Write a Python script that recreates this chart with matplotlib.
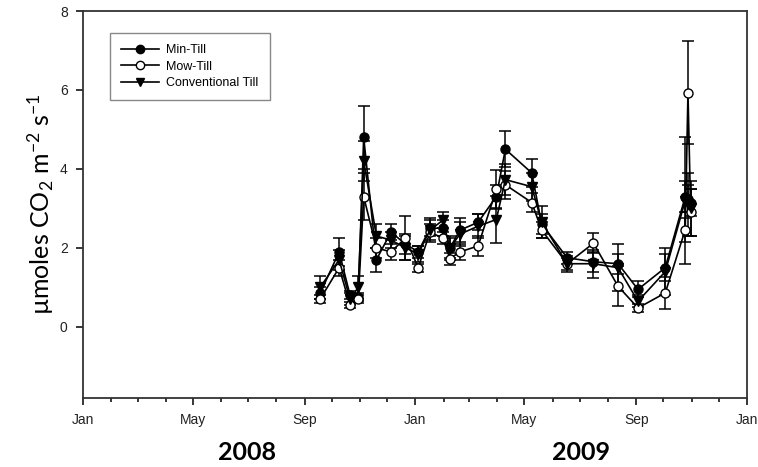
import matplotlib
matplotlib.use('Agg')
import matplotlib.pyplot as plt
import matplotlib.dates as mdates
from matplotlib.lines import Line2D
import datetime

plt.rcParams['mathtext.fontset'] = 'custom'
plt.rcParams['mathtext.rm'] = 'Lato'
plt.rcParams['mathtext.it'] = 'Lato:italic'

# sampling dates
dates = ['2008-09-18', '2008-10-09', '2008-10-21', '2008-10-30', '2008-11-05',
         '2008-11-19', '2008-12-05', '2008-12-21', '2009-01-04', '2009-01-17',
         '2009-01-31', '2009-02-08', '2009-02-19', '2009-03-11', '2009-03-31',
         '2009-04-10', '2009-05-09', '2009-05-20', '2009-06-17', '2009-07-16',
         '2009-08-12', '2009-09-03', '2009-10-03', '2009-10-25', '2009-10-28',
         '2009-10-31']

min_till = [0.85, 1.9, 0.8, 0.75, 4.8, 1.7, 2.4, 2.1, 1.9, 2.5, 2.5, 2.0, 2.45,
            2.65, 3.3, 4.5, 3.9, 2.6, 1.75, 1.65, 1.6, 0.95, 1.5, 3.3, 3.25, 3.15]
min_err = [0.15, 0.35, 0.1, 0.1, 0.8, 0.3, 0.2, 0.25, 0.15, 0.2, 0.2, 0.25, 0.3,
           0.2, 0.3, 0.45, 0.35, 0.25, 0.15, 0.25, 0.25, 0.2, 0.35, 0.4, 0.35, 0.35]

mow_till = [0.7, 1.5, 0.55, 0.7, 3.3, 2.0, 1.9, 2.25, 1.5, 2.4, 2.25, 1.73, 1.9,
            2.05, 3.48, 3.6, 3.15, 2.45, 1.6, 2.12, 1.03, 0.48, 0.86, 2.46, 5.93, 2.9]
mow_err = [0.1, 0.2, 0.08, 0.1, 0.6, 0.25, 0.2, 0.55, 0.1, 0.2, 0.15, 0.15, 0.2,
           0.25, 0.5, 0.35, 0.25, 0.2, 0.15, 0.25, 0.5, 0.1, 0.4, 0.3, 1.3, 0.6]

conv_till = [1.0, 1.7, 0.7, 1.0, 4.2, 2.3, 2.2, 2.0, 1.85, 2.45, 2.7, 2.0, 2.35,
             2.55, 2.72, 3.73, 3.55, 2.65, 1.6, 1.6, 1.5, 0.65, 1.4, 3.2, 3.1, 3.0]
conv_err = [0.3, 0.25, 0.15, 0.3, 0.5, 0.3, 0.2, 0.3, 0.2, 0.3, 0.2, 0.3, 0.3,
            0.3, 0.6, 0.4, 0.35, 0.4, 0.2, 0.35, 0.6, 0.15, 0.6, 1.6, 0.8, 0.7]

x = [datetime.datetime.strptime(d, '%Y-%m-%d') for d in dates]

fig = plt.figure(figsize=(7.58, 4.67), dpi=100)
ax = fig.add_axes([0.1095, 0.1478, 0.876, 0.8286])

kw = dict(color='black', ecolor='black', elinewidth=1.1, capsize=4.5, capthick=1.1,
          linewidth=1.2, markersize=6.5, mec='black')
ax.errorbar(x, min_till, yerr=min_err, fmt='-o', mfc='black', **kw)
ax.errorbar(x, mow_till, yerr=mow_err, fmt='-o', mfc='white', **kw)
ax.errorbar(x, conv_till, yerr=conv_err, fmt='-v', mfc='black', **kw)

ax.set_xlim(datetime.datetime(2008, 1, 1), datetime.datetime(2010, 1, 1))
ax.set_ylim(-1.8, 8)
ax.set_yticks([0, 2, 4, 6, 8])

ax.xaxis.set_major_locator(mdates.MonthLocator(bymonth=[1, 5, 9]))
ax.xaxis.set_minor_locator(mdates.MonthLocator())
ax.xaxis.set_major_formatter(mdates.DateFormatter('%b'))

ax.tick_params(axis='both', which='major', direction='out', length=5, width=1.1,
               labelsize=10, pad=6, labelcolor='#222222')
ax.tick_params(axis='x', which='minor', direction='out', length=3, width=1.1)
for lab in ax.get_xticklabels() + ax.get_yticklabels():
    lab.set_fontfamily('Liberation Sans')

for s in ax.spines.values():
    s.set_linewidth(1.3)
    s.set_color('#333333')

ax.set_ylabel('µmoles CO$_2$ m$^{-2}$ s$^{-1}$', fontsize=18, fontfamily='Lato', labelpad=3)

handles = [
    Line2D([], [], color='black', lw=1.2, marker='o', ms=6, mfc='black', mec='black'),
    Line2D([], [], color='black', lw=1.2, marker='o', ms=6, mfc='white', mec='black'),
    Line2D([], [], color='black', lw=1.2, marker='v', ms=6, mfc='black', mec='black'),
]
labels = ['Min-Till', 'Mow-Till', 'Conventional Till']
leg = ax.legend(handles, labels, loc='upper left', bbox_to_anchor=(0.041, 0.943),
                borderaxespad=0, fancybox=False, framealpha=1, edgecolor='#888888',
                prop={'family': 'Liberation Sans', 'size': 9},
                handlelength=3.0, handletextpad=0.6, borderpad=0.9, labelspacing=0.35)
leg.get_frame().set_linewidth(1.0)

fig.text(247 / 758, 1 - 453 / 467, '2008', fontsize=18, fontweight='bold',
         fontfamily='Lato', ha='center', va='center')
fig.text(581 / 758, 1 - 453 / 467, '2009', fontsize=18, fontweight='bold',
         fontfamily='Lato', ha='center', va='center')

fig.savefig('out.png', dpi=100)
